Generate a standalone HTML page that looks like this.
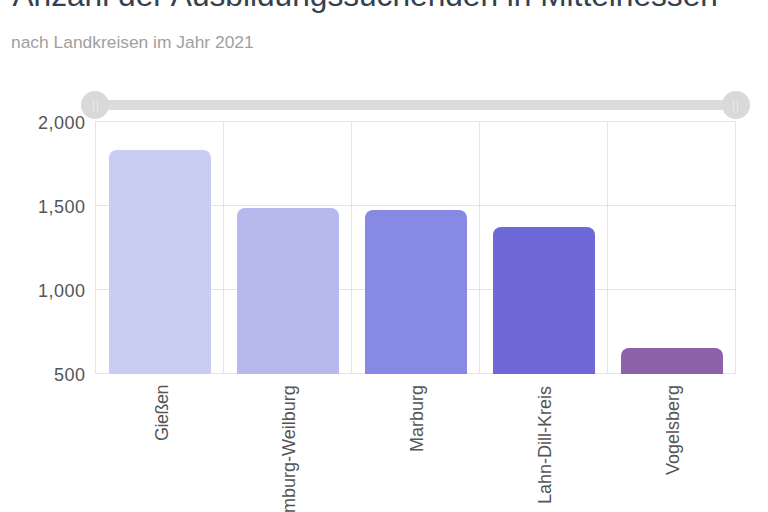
<!DOCTYPE html>
<html>
<head>
<meta charset="utf-8">
<style>
html,body{margin:0;padding:0;}
body{width:768px;height:512px;overflow:hidden;background:#fff;position:relative;font-family:"Liberation Sans",sans-serif;}
.abs{position:absolute;}
#title{left:12.5px;top:-23px;font-size:31.65px;color:#334150;white-space:nowrap;line-height:36px;}
#sub{left:11px;top:32.3px;font-size:17.4px;color:#a0a0a0;white-space:nowrap;line-height:20px;}
.track{left:95px;top:100px;width:641px;height:10px;background:#dcdcdc;}
.handle{width:28px;height:28px;border-radius:50%;background:#d9d9d9;}
.handle i{position:absolute;top:8.5px;width:1.2px;height:11.5px;background:#e9e9e9;}
.vl{top:121px;width:1px;height:253px;background:#e5e5e5;}
.hl{left:95px;width:641px;height:1px;background:#e5e5e5;}
.yl{width:60px;left:25.5px;text-align:right;font-size:18px;letter-spacing:0.5px;color:#555;line-height:20px;}
.bar{border-radius:8px 8px 0 0;}
.xl{font-size:18px;color:#555;white-space:nowrap;line-height:20px;transform-origin:0 0;transform:rotate(-90deg);}
</style>
</head>
<body>
<div id="title" class="abs">Anzahl der Ausbildungssuchenden in Mittelhessen</div>
<div id="sub" class="abs">nach Landkreisen im Jahr 2021</div>

<!-- grid -->
<div class="abs vl" style="left:95px"></div>
<div class="abs vl" style="left:223px"></div>
<div class="abs vl" style="left:351px"></div>
<div class="abs vl" style="left:479px"></div>
<div class="abs vl" style="left:607px"></div>
<div class="abs vl" style="left:735px"></div>
<div class="abs hl" style="top:121px"></div>
<div class="abs hl" style="top:205px"></div>
<div class="abs hl" style="top:289px"></div>
<div class="abs hl" style="top:373px"></div>

<!-- slider -->
<div class="abs track"></div>
<div class="abs handle" style="left:81.4px;top:91px"><i style="left:11.3px"></i><i style="left:15.2px"></i></div>
<div class="abs handle" style="left:721.8px;top:91px"><i style="left:11.3px"></i><i style="left:15.2px"></i></div>

<!-- y labels -->
<div class="abs yl" style="top:113px">2,000</div>
<div class="abs yl" style="top:197px">1,500</div>
<div class="abs yl" style="top:281px">1,000</div>
<div class="abs yl" style="top:365px">500</div>

<!-- bars -->
<div class="abs bar" style="left:109px;top:150px;width:101.5px;height:224px;background:#c9cdf3"></div>
<div class="abs bar" style="left:237px;top:208px;width:101.5px;height:166px;background:#b5b9ee"></div>
<div class="abs bar" style="left:365px;top:210px;width:101.5px;height:164px;background:#8889e5"></div>
<div class="abs bar" style="left:493px;top:227px;width:101.5px;height:147px;background:#6f68d9"></div>
<div class="abs bar" style="left:621px;top:348px;width:101.5px;height:26px;background:#8e62a8"></div>

<!-- x labels -->
<div class="abs xl" style="left:151.5px;top:441px;letter-spacing:-0.5px">Gießen</div>
<div class="abs xl" style="left:279px;top:527px">Limburg-Weilburg</div>
<div class="abs xl" style="left:407px;top:452px">Marburg</div>
<div class="abs xl" style="left:534.5px;top:504px">Lahn-Dill-Kreis</div>
<div class="abs xl" style="left:662.5px;top:475px">Vogelsberg</div>
</body>
</html>
